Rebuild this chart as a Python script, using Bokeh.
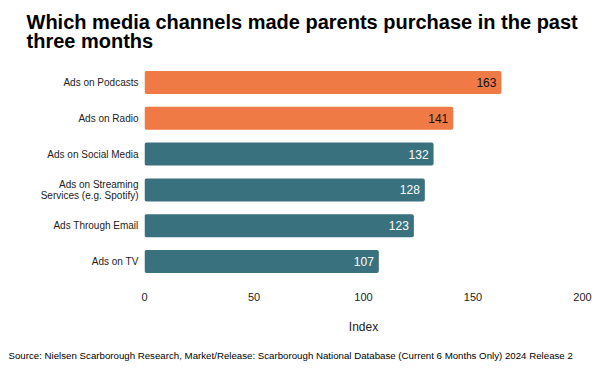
from bokeh.plotting import figure
from bokeh.models import ColumnDataSource, FactorRange, Range1d, FixedTicker, LabelSet, Title
from bokeh.embed import file_html
from bokeh.resources import INLINE
from bokeh.core.properties import value

categories = ["Ads on Podcasts", "Ads on Radio", "Ads on Social Media",
              "Ads on Streaming\nServices (e.g. Spotify)", "Ads Through Email", "Ads on TV"]
values = [163, 141, 132, 128, 123, 107]
bar_colors = ["#EF7A45", "#EF7A45", "#3A717E", "#3A717E", "#3A717E", "#3A717E"]
label_colors = ["#111111", "#111111", "#FFFFFF", "#FFFFFF", "#FFFFFF", "#FFFFFF"]
x_ticks = [0, 50, 100, 150, 200]
source_note = "Source: Nielsen Scarborough Research, Market/Release: Scarborough National Database (Current 6 Months Only) 2024 Release 2"

src = ColumnDataSource(dict(cat=categories, val=values, color=bar_colors,
                            lcolor=label_colors, txt=[str(v) for v in values]))

FONT = "Liberation Sans"

p = figure(width=600, height=372, output_backend="svg", toolbar_location=None,
           y_range=FactorRange(factors=categories[::-1], range_padding=0),
           x_range=Range1d(0, 200),
           min_border_left=144, min_border_right=18, min_border_top=0, min_border_bottom=92)

p.title.text = "Which media channels made parents purchase in the past\nthree months"
p.title.text_font = FONT
p.title.text_font_size = "20px"
p.title.text_font_style = "bold"
p.title.text_color = "#000000"
p.title.text_line_height = 0.9
p.title.vertical_align = "top"
p.title.offset = -118
p.title.standoff = 20

p.hbar(y="cat", right="val", left=0, height=0.64, color="color", source=src,
       line_color=None, border_radius=2)

labels = LabelSet(x="val", y="cat", text="txt", source=src, text_align="right",
                  text_baseline="middle", x_offset=-5, text_color="lcolor",
                  text_font=value(FONT), text_font_size="12px")
p.add_layout(labels)

p.outline_line_color = None
p.grid.visible = False

p.xaxis.ticker = FixedTicker(ticks=x_ticks)
p.xaxis.axis_label = "Index"
p.xaxis.axis_label_text_font = FONT
p.xaxis.axis_label_text_font_style = "normal"
p.xaxis.axis_label_text_font_size = "12px"
p.xaxis.axis_label_text_color = "#222222"
p.xaxis.axis_label_standoff = 16

for ax in (p.xaxis, p.yaxis):
    ax.axis_line_color = None
    ax.major_tick_line_color = None
    ax.minor_tick_line_color = None
    ax.major_tick_out = 0
    ax.major_tick_in = 0
    ax.major_label_text_font = FONT
    ax.major_label_text_color = "#222222"

p.xaxis.major_label_text_font_size = "11px"
p.xaxis.major_label_standoff = 13
p.yaxis.major_label_text_font_size = "10px"
p.yaxis.major_label_text_line_height = 1.0
p.yaxis.major_label_standoff = 6

src_title = Title(text=source_note, text_font=FONT, text_font_size="9.7px",
                  text_font_style="normal", text_color="#000000", align="left",
                  offset=-136, standoff=23)
p.add_layout(src_title, "below")

open("out.html", "w").write(file_html(p, INLINE))
